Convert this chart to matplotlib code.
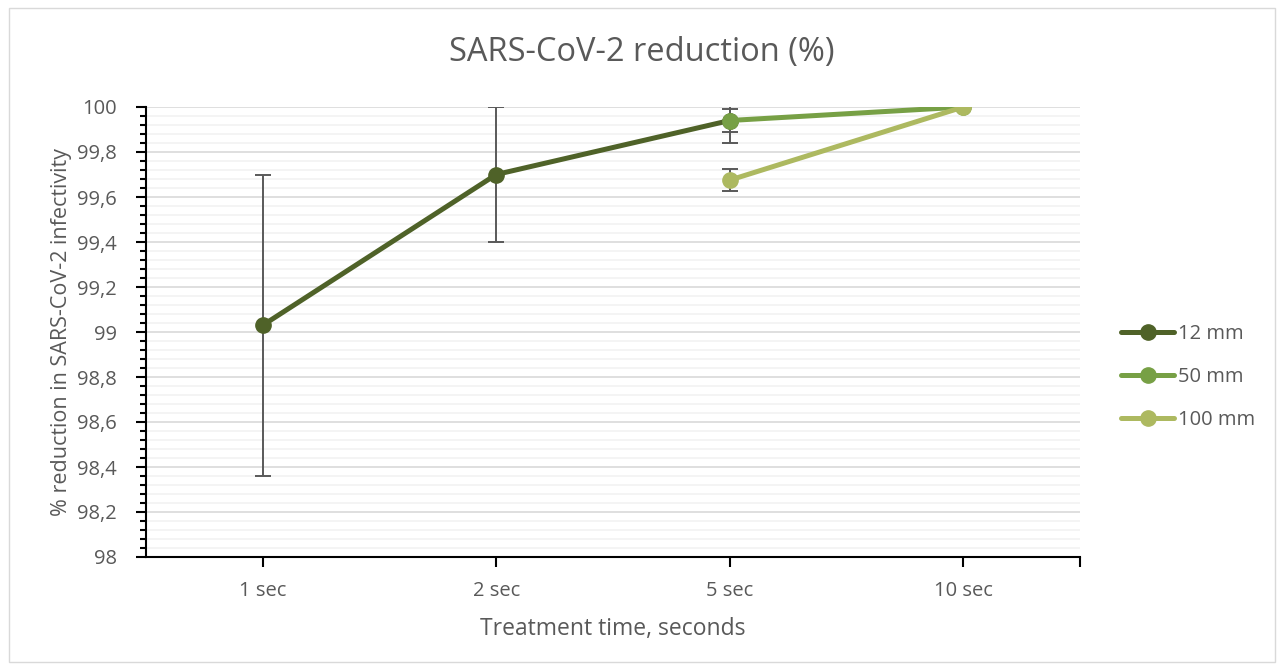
import matplotlib
matplotlib.use("Agg")
import matplotlib.pyplot as plt
from matplotlib.patches import Rectangle
from matplotlib.ticker import MultipleLocator, FixedLocator, FuncFormatter

categories = ["1 sec", "2 sec", "5 sec", "10 sec"]

# series: category index, value, error
x_12 = [0, 1, 2]
y_12 = [99.03, 99.70, 99.94]
err_12 = [0.67, 0.30, 0.05]

x_50 = [2, 3]
y_50 = [99.94, 100.0]
err_50 = [0.10, 0.0]

x_100 = [2, 3]
y_100 = [99.675, 100.0]
err_100 = [0.05, 0.0]

series = [
    ("12 mm", x_12, y_12, err_12, "#4F6228"),
    ("50 mm", x_50, y_50, err_50, "#77A045"),
    ("100 mm", x_100, y_100, err_100, "#ADB960"),
]

text_color = "#595959"
plt.rcParams["font.family"] = ["Open Sans", "DejaVu Sans"]


def fmt_tick(v, pos):
    s = f"{v:.1f}".replace(".", ",")
    return s[:-2] if s.endswith(",0") else s


fig = plt.figure(figsize=(12.84, 6.7), dpi=100)
ax = fig.add_axes([146 / 1284, 113 / 670, 934 / 1284, 450 / 670])

# chart border
fig.patches.append(Rectangle((9 / 1284, 8 / 670), 1266 / 1284, 654 / 670,
                             transform=fig.transFigure, fill=False,
                             edgecolor="#D9D9D9", linewidth=1))

for name, xs, ys, es, color in series:
    ax.errorbar(xs, ys, yerr=es, fmt="none", ecolor="#595959",
                elinewidth=1.4, capsize=6, capthick=1.4, zorder=2)

for name, xs, ys, es, color in series:
    ax.plot(xs, ys, color=color, linewidth=3.6, marker="o", markersize=11,
            solid_capstyle="round", label=name, zorder=3)

ax.set_xlim(-0.5, 3.5)
ax.set_ylim(98, 100)
ax.set_xticks(range(len(categories)))
ax.set_xticklabels(categories)
ax.xaxis.set_minor_locator(FixedLocator([3.5]))
ax.yaxis.set_major_locator(MultipleLocator(0.2))
ax.yaxis.set_minor_locator(MultipleLocator(0.04))
ax.yaxis.set_major_formatter(FuncFormatter(fmt_tick))

ax.grid(which="major", axis="y", color="#D9D9D9", linewidth=1.2, zorder=0)
ax.grid(which="minor", axis="y", color="#F2F2F2", linewidth=1.2, zorder=0)
ax.set_axisbelow(True)

for s in ["top", "right"]:
    ax.spines[s].set_visible(False)
for s in ["left", "bottom"]:
    ax.spines[s].set_color("black")
    ax.spines[s].set_linewidth(1.5)

ax.tick_params(axis="both", which="both", direction="out", color="black", width=1.5)
ax.tick_params(axis="y", which="major", length=7, labelsize=14.5, labelcolor=text_color, pad=14)
ax.tick_params(axis="y", which="minor", length=4)
ax.tick_params(axis="x", which="major", length=7, labelsize=14.5, labelcolor=text_color, pad=10)
ax.tick_params(axis="x", which="minor", length=7)

fig.text(0.5, 1 - 52 / 670, "SARS-CoV-2 reduction (%)", fontsize=23.5,
         color=text_color, ha="center", va="center")
ax.set_xlabel("Treatment time, seconds", fontsize=16.5, color=text_color, labelpad=12)
ax.set_ylabel("% reduction in SARS-CoV-2 infectivity", fontsize=15.5, color=text_color, labelpad=4)

ax.legend(loc="center left", bbox_to_anchor=(1.025, 0.4), frameon=False,
          fontsize=14.5, labelcolor=text_color, handlelength=2.6, handletextpad=0.2,
          labelspacing=1.15)

fig.savefig("out.png", dpi=100)
